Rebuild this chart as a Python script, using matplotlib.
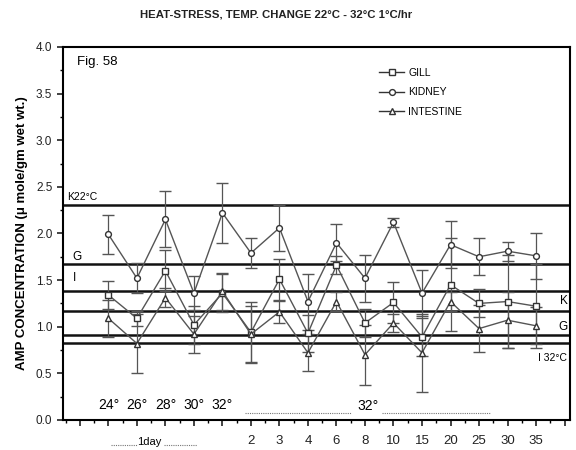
import matplotlib
matplotlib.use("Agg")
import matplotlib.pyplot as plt
from matplotlib.ticker import MultipleLocator, FixedLocator, FormatStrFormatter
from matplotlib.lines import Line2D

plt.rcParams['font.family'] = ['Liberation Sans', 'DejaVu Sans']

# ---- data ----
x_pos = [2, 3, 4, 5, 6, 7, 8, 9, 10, 11, 12, 13, 14, 15, 16, 17]
kidney = [1.99, 1.52, 2.15, 1.36, 2.22, 1.79, 2.06, 1.27, 1.90, 1.52, 2.12, 1.36, 1.88, 1.75, 1.81, 1.76]
kidney_err = [0.21, 0.16, 0.30, 0.18, 0.32, 0.16, 0.25, 0.30, 0.20, 0.25, 0.05, 0.25, 0.25, 0.20, 0.10, 0.25]
gill = [1.34, 1.09, 1.60, 1.02, 1.36, 0.94, 1.51, 0.93, 1.66, 1.04, 1.26, 0.89, 1.45, 1.25, 1.27, 1.22]
gill_err = [0.15, 0.08, 0.22, 0.20, 0.20, 0.33, 0.22, 0.20, 0.10, 0.15, 0.22, 0.20, 0.50, 0.15, 0.50, 0.45]
intestine = [1.09, 0.82, 1.31, 0.92, 1.38, 0.92, 1.16, 0.72, 1.27, 0.70, 1.04, 0.72, 1.27, 0.98, 1.07, 1.01]
intestine_err = [0.20, 0.32, 0.10, 0.20, 0.20, 0.30, 0.12, 0.20, 0.10, 0.32, 0.10, 0.42, 0.10, 0.25, 0.30, 0.20]

tick_positions = list(range(1, 19))
tick_labels = ["", "", "", "", "", "", "2", "3", "4", "6", "8", "10", "15", "20", "25", "30", "35", ""]
hour_labels = ["24°", "26°", "28°", "30°", "32°"]
hour_pos = [2, 3, 4, 5, 6]

ref_levels = [2.30, 1.67, 1.38, 1.17, 0.91, 0.83]

# ---- figure ----
fig = plt.figure(figsize=(5.76, 4.5), dpi=100)
ax = fig.add_axes([0.109, 0.0667, 0.881, 0.829])

line_col = '#555555'
for lvl in ref_levels:
    ax.axhline(lvl, color='#111111', lw=1.8, zorder=1)

specs = [(gill, gill_err, 's', 'GILL'),
         (kidney, kidney_err, 'o', 'KIDNEY'),
         (intestine, intestine_err, '^', 'INTESTINE')]
handles = []
for y, e, m, lab in specs:
    ax.errorbar(x_pos, y, yerr=e, color=line_col, lw=1.0, marker=m, ms=4.2,
                mfc='white', mec='#333333', mew=1.0, capsize=4, elinewidth=0.9,
                ecolor=line_col, zorder=3)
    handles.append(Line2D([], [], color='#333333', lw=1.0, marker=m, ms=4.2,
                          mfc='white', mec='#333333', mew=1.0, label=lab))

ax.set_xlim(0.4, 18.2)
ax.set_ylim(0, 4.0)
ax.xaxis.set_major_locator(FixedLocator(tick_positions))
ax.set_xticklabels(tick_labels)
ax.xaxis.set_minor_locator(FixedLocator([p + 0.5 for p in range(0, 19)]))
ax.yaxis.set_major_locator(MultipleLocator(0.5))
ax.yaxis.set_minor_locator(MultipleLocator(0.25))
ax.yaxis.set_major_formatter(FormatStrFormatter('%.1f'))
ax.tick_params(axis='both', which='major', direction='out', length=4, width=1.2, labelsize=8.5, colors='#222222')
ax.tick_params(axis='x', labelsize=9.5, pad=7)
ax.tick_params(axis='both', which='minor', direction='out', length=2, width=1.0)
for s in ax.spines.values():
    s.set_linewidth(1.5)

ax.set_ylabel('AMP CONCENTRATION (μ mole/gm wet wt.)', fontsize=9.5, fontweight='bold', labelpad=6)
fig.text(0.48, 0.967, 'HEAT-STRESS, TEMP. CHANGE 22°C - 32°C 1°C/hr', ha='center', va='center',
         fontsize=8.2, fontweight='bold', color='#222222')

ax.text(0.9, 3.84, 'Fig. 58', fontsize=9.5, va='center', ha='left')

# reference line labels
ax.text(0.55, 2.39, 'K22°C', fontsize=7.5, va='center', ha='left')
ax.text(0.75, 1.75, 'G', fontsize=8.5, va='center', ha='left')
ax.text(0.75, 1.52, 'I', fontsize=8.5, va='center', ha='left')
ax.text(18.1, 1.28, 'K', fontsize=8.5, va='center', ha='right')
ax.text(18.1, 1.00, 'G', fontsize=8.5, va='center', ha='right')
ax.text(18.1, 0.66, 'I 32°C', fontsize=7.5, va='center', ha='right')

# temperature annotations
for p, t in zip(hour_pos, hour_labels):
    ax.text(p, 0.16, t, fontsize=10, ha='center', va='center')
ax.plot([6.8, 10.5], [0.075, 0.075], color='#777777', lw=0.8, ls=(0, (1, 1)))
ax.text(11.1, 0.15, '32°', fontsize=10, ha='center', va='center')
ax.plot([11.6, 15.4], [0.075, 0.075], color='#777777', lw=0.8, ls=(0, (1, 1)))

# 1 day label below axis
trans = ax.get_xaxis_transform()
ax.text(3.45, -0.058, '1day', fontsize=8, ha='center', va='center', transform=trans, clip_on=False)
ax.plot([2.1, 3.0], [-0.066, -0.066], color='#777777', lw=0.8, ls=(0, (1, 1)), transform=trans, clip_on=False)
ax.plot([3.95, 5.1], [-0.066, -0.066], color='#777777', lw=0.8, ls=(0, (1, 1)), transform=trans, clip_on=False)

ax.legend(handles=handles, loc='upper left', bbox_to_anchor=(0.615, 0.955), frameon=False, fontsize=7.5,
          handlelength=2.4, labelspacing=0.9, handletextpad=0.4, borderaxespad=0)

fig.savefig('out.png', dpi=100)
